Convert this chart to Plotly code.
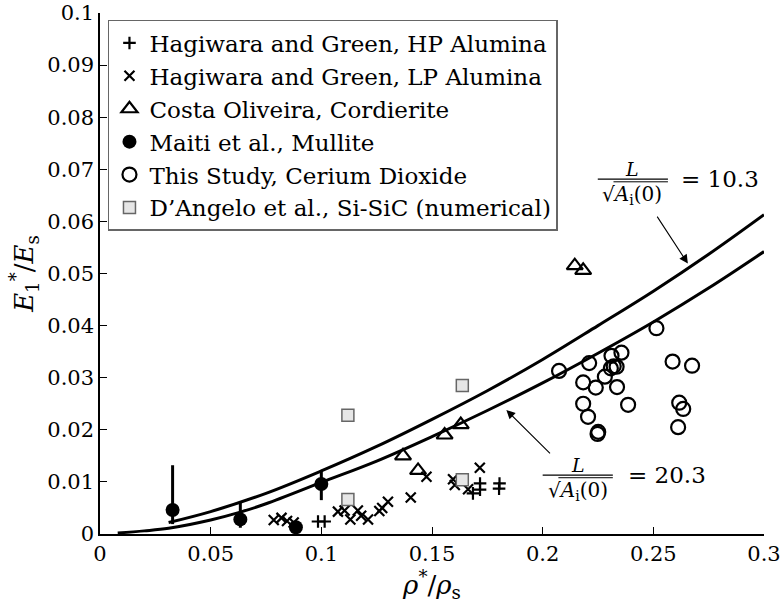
import plotly.graph_objects as go

# ---------------- data ----------------
hp_x = [0.0985, 0.1015, 0.1685, 0.1717, 0.1717, 0.1805, 0.1803]
hp_y = [0.0024, 0.0024, 0.0078, 0.0097, 0.0085, 0.0097, 0.0087]

lp_x = [0.0785, 0.0820, 0.0845, 0.0875, 0.1075, 0.1105, 0.1131, 0.1165, 0.1180,
        0.1211, 0.1262, 0.1275, 0.1301, 0.1404, 0.1475, 0.1595, 0.1603, 0.1663, 0.1716]
lp_y = [0.0027, 0.0031, 0.0025, 0.0022, 0.0043, 0.0045, 0.0028, 0.0045, 0.0035,
        0.0028, 0.0044, 0.0050, 0.0062, 0.0070, 0.0110, 0.0105, 0.0094, 0.0086, 0.0127]

costa_x = [0.1369, 0.1437, 0.1557, 0.1630, 0.2145, 0.2183]
costa_y = [0.0150, 0.0122, 0.0190, 0.0210, 0.0515, 0.0506]

maiti_x = [0.0328, 0.0634, 0.0885, 0.1000]
maiti_y = [0.0046, 0.0028, 0.0013, 0.0096]
maiti_err_plus = [0.0086, 0.0034, 0.0000, 0.0027]
maiti_err_minus = [0.0027, 0.0016, 0.0000, 0.0031]

study_x = [0.2514, 0.2074, 0.2210, 0.2311, 0.2356, 0.2321, 0.2308, 0.2334, 0.2281, 0.2183, 0.2240,
           0.2336, 0.2183, 0.2386, 0.2205, 0.2251, 0.2248, 0.2587, 0.2675, 0.2617, 0.2635, 0.2612]
study_y = [0.0395, 0.0313, 0.0328, 0.0342, 0.0348, 0.0322, 0.0318, 0.0321, 0.0302, 0.0291, 0.0281,
           0.0282, 0.0250, 0.0248, 0.0225, 0.0196, 0.0192, 0.0331, 0.0323, 0.0252, 0.0240, 0.0205]

dangelo_x = [0.1120, 0.1120, 0.1637, 0.1637]
dangelo_y = [0.0228, 0.0066, 0.0285, 0.0104]

# model curves
curve_103_x = [0.031, 0.050, 0.075, 0.100, 0.125, 0.150, 0.175, 0.200, 0.225, 0.250, 0.275, 0.300]
curve_103_y = [0.0022, 0.0043, 0.0078, 0.0121, 0.0168, 0.0220, 0.0275, 0.0335, 0.0400, 0.0466, 0.0537, 0.0613]

curve_203_x = [0.008, 0.020, 0.031, 0.050, 0.0634, 0.075, 0.100, 0.125, 0.150, 0.175, 0.200, 0.225, 0.250, 0.275, 0.300]
curve_203_y = [0.0002, 0.0006, 0.0011, 0.0027, 0.0042, 0.0058, 0.0099, 0.0140, 0.0187, 0.0237, 0.0290, 0.0347, 0.0407, 0.0472, 0.0542]

x_ticks = [0, 0.05, 0.1, 0.15, 0.2, 0.25, 0.3]
x_ticklabels = ["0", "0.05", "0.1", "0.15", "0.2", "0.25", "0.3"]
y_ticks = [0, 0.01, 0.02, 0.03, 0.04, 0.05, 0.06, 0.07, 0.08, 0.09, 0.1]
y_ticklabels = ["0", "0.01", "0.02", "0.03", "0.04", "0.05", "0.06", "0.07", "0.08", "0.09", "0.1"]

FONT = "DejaVu Serif"

fig = go.Figure()

# curves
fig.add_trace(go.Scatter(x=curve_103_x, y=curve_103_y, mode="lines", line=dict(color="black", width=3, shape="spline"),
                         showlegend=False, hoverinfo="skip"))
fig.add_trace(go.Scatter(x=curve_203_x, y=curve_203_y, mode="lines", line=dict(color="black", width=3, shape="spline"),
                         showlegend=False, hoverinfo="skip"))

fig.add_trace(go.Scatter(x=hp_x, y=hp_y, mode="markers", name="Hagiwara and Green, HP Alumina",
                         marker=dict(symbol="cross-thin-open", size=9, color="black", line=dict(color="black", width=2.2))))
fig.add_trace(go.Scatter(x=lp_x, y=lp_y, mode="markers", name="Hagiwara and Green, LP Alumina",
                         marker=dict(symbol="x-thin-open", size=10, color="black", line=dict(color="black", width=2.2))))
fig.add_trace(go.Scatter(x=costa_x, y=costa_y, mode="markers", name="Costa Oliveira, Cordierite",
                         marker=dict(symbol="triangle-up-open", size=14, color="black", line=dict(color="black", width=2.2))))
fig.add_trace(go.Scatter(x=maiti_x, y=maiti_y, mode="markers", name="Maiti et al., Mullite",
                         marker=dict(symbol="circle", size=14, color="black"),
                         error_y=dict(type="data", symmetric=False, array=maiti_err_plus, arrayminus=maiti_err_minus,
                                      color="black", thickness=3, width=0)))
fig.add_trace(go.Scatter(x=study_x, y=study_y, mode="markers", name="This Study, Cerium Dioxide",
                         marker=dict(symbol="circle-open", size=14, color="black", line=dict(color="black", width=2.2))))
fig.add_trace(go.Scatter(x=dangelo_x, y=dangelo_y, mode="markers", name="D\u2019Angelo et al., Si-SiC (numerical)",
                         marker=dict(symbol="square", size=12, color="#e6e6e6", line=dict(color="#666666", width=1.5))))

annotations = []
shapes = []

def frac(xc, y_num, y_bar, y_den, x_bar0, x_bar1, x_ov0, y_ov, x_eq, y_eq, value):
    annotations.append(dict(x=xc, y=y_num, xref="x", yref="y", text="<i>L</i>", showarrow=False,
                            font=dict(family=FONT, size=19, color="black")))
    annotations.append(dict(x=xc, y=y_den, xref="x", yref="y", text="\u221a<i>A</i><sub>i</sub>(0)", showarrow=False,
                            font=dict(family=FONT, size=20, color="black")))
    shapes.append(dict(type="line", xref="x", yref="y", x0=x_bar0, x1=x_bar1, y0=y_bar, y1=y_bar,
                       line=dict(color="black", width=1.2)))
    shapes.append(dict(type="line", xref="x", yref="y", x0=x_ov0, x1=x_bar1, y0=y_ov, y1=y_ov,
                       line=dict(color="black", width=1)))
    annotations.append(dict(x=x_eq, y=y_eq, xref="x", yref="y", text="= " + value, showarrow=False, xanchor="left",
                            font=dict(family=FONT, size=23, color="black")))

frac(0.2403, 0.0701, 0.0681, 0.0651, 0.2249, 0.2566, 0.2320, 0.0676, 0.2615, 0.0681, "10.3")
frac(0.2159, 0.0133, 0.0113, 0.0083, 0.2000, 0.2317, 0.2071, 0.0108, 0.2375, 0.0113, "20.3")

# arrows
annotations.append(dict(x=0.2656, y=0.0519, ax=0.2513, ay=0.0612, xref="x", yref="y", axref="x", ayref="y",
                        text="", showarrow=True, arrowhead=2, arrowsize=1.6, arrowwidth=1.1, arrowcolor="black"))
annotations.append(dict(x=0.1836, y=0.0238, ax=0.2040, ay=0.0152, xref="x", yref="y", axref="x", ayref="y",
                        text="", showarrow=True, arrowhead=2, arrowsize=1.6, arrowwidth=1.1, arrowcolor="black"))

fig.update_layout(
    width=783, height=604,
    margin=dict(l=100, r=19, t=13, b=70),
    paper_bgcolor="white", plot_bgcolor="white",
    font=dict(family=FONT, size=20, color="black"),
    annotations=annotations, shapes=shapes,
    legend=dict(x=0.012, y=0.9866, xanchor="left", yanchor="top",
                bgcolor="white", bordercolor="#666666", borderwidth=1.5,
                font=dict(family=FONT, size=23, color="black")),
    xaxis=dict(range=[0, 0.3], tickvals=x_ticks, ticktext=x_ticklabels, showline=True, linecolor="black",
               linewidth=1.5, ticks="inside", ticklen=7, tickcolor="black", showgrid=False, zeroline=False,
               automargin=False, tickfont=dict(family=FONT, size=21),
               title=dict(text="<i>\u03c1</i><sup>*</sup>/<i>\u03c1</i><sub>s</sub>", font=dict(family=FONT, size=26),
                          standoff=4)),
    yaxis=dict(range=[0, 0.1], tickvals=y_ticks, ticktext=y_ticklabels, showline=True, linecolor="black",
               linewidth=1.5, ticks="inside", ticklen=7, tickcolor="black", showgrid=False, zeroline=False,
               automargin=False, tickfont=dict(family=FONT, size=21),
               title=dict(text="<i>E</i><sub>1</sub><sup>*</sup>/<i>E</i><sub>s</sub>", font=dict(family=FONT, size=26),
                          standoff=6)),
)

fig.write_html("out.html")
